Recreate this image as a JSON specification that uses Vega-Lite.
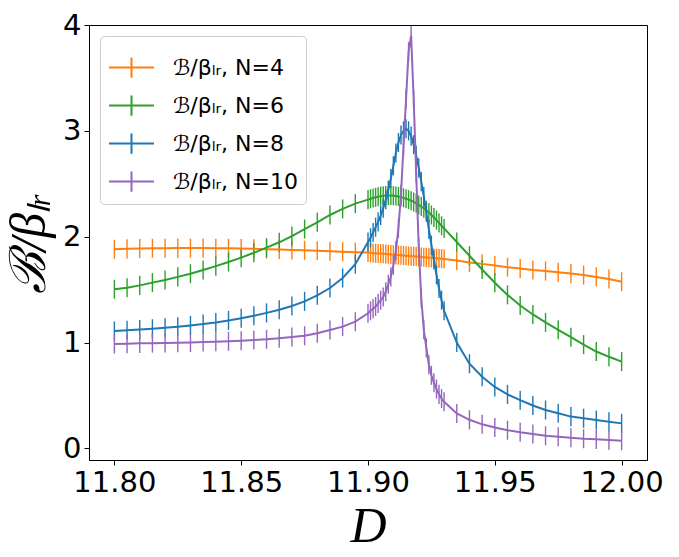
{
  "$schema": "https://vega.github.io/schema/vega-lite/v6.json",
  "width": 558,
  "height": 435,
  "autosize": "none",
  "padding": {"left": 89, "top": 25, "right": 32, "bottom": 97},
  "background": "white",
  "data": {
    "values": [
      {"N":"N=4","D":11.8,"B":1.881,"e":0.09},{"N":"N=4","D":11.805,"B":1.885,"e":0.09},{"N":"N=4","D":11.81,"B":1.888,"e":0.09},{"N":"N=4","D":11.815,"B":1.89,"e":0.09},{"N":"N=4","D":11.82,"B":1.891,"e":0.09},{"N":"N=4","D":11.825,"B":1.892,"e":0.09},{"N":"N=4","D":11.83,"B":1.892,"e":0.09},{"N":"N=4","D":11.835,"B":1.892,"e":0.09},{"N":"N=4","D":11.84,"B":1.891,"e":0.09},{"N":"N=4","D":11.845,"B":1.89,"e":0.09},
      {"N":"N=4","D":11.85,"B":1.888,"e":0.09},{"N":"N=4","D":11.855,"B":1.885,"e":0.09},{"N":"N=4","D":11.86,"B":1.882,"e":0.09},{"N":"N=4","D":11.865,"B":1.879,"e":0.09},{"N":"N=4","D":11.87,"B":1.875,"e":0.09},{"N":"N=4","D":11.875,"B":1.872,"e":0.09},{"N":"N=4","D":11.88,"B":1.867,"e":0.09},{"N":"N=4","D":11.885,"B":1.862,"e":0.09},{"N":"N=4","D":11.89,"B":1.858,"e":0.09},{"N":"N=4","D":11.895,"B":1.854,"e":0.09},
      {"N":"N=4","D":11.9,"B":1.85,"e":0.09},{"N":"N=4","D":11.901,"B":1.848,"e":0.09},{"N":"N=4","D":11.902,"B":1.846,"e":0.09},{"N":"N=4","D":11.903,"B":1.844,"e":0.09},{"N":"N=4","D":11.904,"B":1.842,"e":0.09},{"N":"N=4","D":11.905,"B":1.84,"e":0.09},{"N":"N=4","D":11.906,"B":1.838,"e":0.09},{"N":"N=4","D":11.907,"B":1.836,"e":0.09},{"N":"N=4","D":11.908,"B":1.834,"e":0.09},{"N":"N=4","D":11.909,"B":1.832,"e":0.09},
      {"N":"N=4","D":11.91,"B":1.83,"e":0.09},{"N":"N=4","D":11.911,"B":1.828,"e":0.09},{"N":"N=4","D":11.912,"B":1.826,"e":0.09},{"N":"N=4","D":11.913,"B":1.824,"e":0.09},{"N":"N=4","D":11.914,"B":1.822,"e":0.09},{"N":"N=4","D":11.915,"B":1.82,"e":0.09},{"N":"N=4","D":11.916,"B":1.818,"e":0.09},{"N":"N=4","D":11.917,"B":1.816,"e":0.09},{"N":"N=4","D":11.918,"B":1.814,"e":0.09},{"N":"N=4","D":11.919,"B":1.812,"e":0.09},
      {"N":"N=4","D":11.92,"B":1.81,"e":0.09},{"N":"N=4","D":11.921,"B":1.808,"e":0.09},{"N":"N=4","D":11.922,"B":1.806,"e":0.09},{"N":"N=4","D":11.923,"B":1.804,"e":0.09},{"N":"N=4","D":11.924,"B":1.802,"e":0.09},{"N":"N=4","D":11.925,"B":1.8,"e":0.09},{"N":"N=4","D":11.926,"B":1.798,"e":0.09},{"N":"N=4","D":11.927,"B":1.796,"e":0.09},{"N":"N=4","D":11.928,"B":1.794,"e":0.09},{"N":"N=4","D":11.929,"B":1.792,"e":0.09},
      {"N":"N=4","D":11.93,"B":1.79,"e":0.09},{"N":"N=4","D":11.935,"B":1.775,"e":0.09},{"N":"N=4","D":11.94,"B":1.757,"e":0.09},{"N":"N=4","D":11.945,"B":1.743,"e":0.09},{"N":"N=4","D":11.95,"B":1.727,"e":0.09},{"N":"N=4","D":11.955,"B":1.712,"e":0.09},{"N":"N=4","D":11.96,"B":1.7,"e":0.09},{"N":"N=4","D":11.965,"B":1.686,"e":0.09},{"N":"N=4","D":11.97,"B":1.675,"e":0.09},{"N":"N=4","D":11.975,"B":1.663,"e":0.09},
      {"N":"N=4","D":11.98,"B":1.651,"e":0.09},{"N":"N=4","D":11.985,"B":1.638,"e":0.09},{"N":"N=4","D":11.99,"B":1.62,"e":0.09},{"N":"N=4","D":11.995,"B":1.6,"e":0.09},{"N":"N=4","D":12.0,"B":1.575,"e":0.09},

      {"N":"N=6","D":11.8,"B":1.503,"e":0.09},{"N":"N=6","D":11.805,"B":1.518,"e":0.09},{"N":"N=6","D":11.81,"B":1.54,"e":0.09},{"N":"N=6","D":11.815,"B":1.566,"e":0.09},{"N":"N=6","D":11.82,"B":1.59,"e":0.09},{"N":"N=6","D":11.825,"B":1.62,"e":0.09},{"N":"N=6","D":11.83,"B":1.65,"e":0.09},{"N":"N=6","D":11.835,"B":1.685,"e":0.09},{"N":"N=6","D":11.84,"B":1.722,"e":0.09},{"N":"N=6","D":11.845,"B":1.761,"e":0.09},
      {"N":"N=6","D":11.85,"B":1.802,"e":0.09},{"N":"N=6","D":11.855,"B":1.848,"e":0.09},{"N":"N=6","D":11.86,"B":1.896,"e":0.09},{"N":"N=6","D":11.865,"B":1.947,"e":0.09},{"N":"N=6","D":11.87,"B":2.005,"e":0.09},{"N":"N=6","D":11.875,"B":2.072,"e":0.09},{"N":"N=6","D":11.88,"B":2.136,"e":0.09},{"N":"N=6","D":11.885,"B":2.205,"e":0.09},{"N":"N=6","D":11.89,"B":2.262,"e":0.09},{"N":"N=6","D":11.895,"B":2.312,"e":0.09},
      {"N":"N=6","D":11.9,"B":2.35,"e":0.09},{"N":"N=6","D":11.901,"B":2.358,"e":0.09},{"N":"N=6","D":11.902,"B":2.366,"e":0.09},{"N":"N=6","D":11.903,"B":2.372,"e":0.09},{"N":"N=6","D":11.904,"B":2.378,"e":0.09},{"N":"N=6","D":11.905,"B":2.383,"e":0.09},{"N":"N=6","D":11.906,"B":2.386,"e":0.09},{"N":"N=6","D":11.907,"B":2.388,"e":0.09},{"N":"N=6","D":11.908,"B":2.39,"e":0.09},{"N":"N=6","D":11.909,"B":2.389,"e":0.09},
      {"N":"N=6","D":11.91,"B":2.387,"e":0.09},{"N":"N=6","D":11.911,"B":2.384,"e":0.09},{"N":"N=6","D":11.912,"B":2.38,"e":0.09},{"N":"N=6","D":11.913,"B":2.374,"e":0.09},{"N":"N=6","D":11.914,"B":2.367,"e":0.09},{"N":"N=6","D":11.915,"B":2.358,"e":0.09},{"N":"N=6","D":11.916,"B":2.35,"e":0.09},{"N":"N=6","D":11.917,"B":2.34,"e":0.09},{"N":"N=6","D":11.918,"B":2.328,"e":0.09},{"N":"N=6","D":11.919,"B":2.315,"e":0.09},
      {"N":"N=6","D":11.92,"B":2.3,"e":0.09},{"N":"N=6","D":11.921,"B":2.285,"e":0.09},{"N":"N=6","D":11.922,"B":2.268,"e":0.09},{"N":"N=6","D":11.923,"B":2.25,"e":0.09},{"N":"N=6","D":11.924,"B":2.228,"e":0.09},{"N":"N=6","D":11.925,"B":2.205,"e":0.09},{"N":"N=6","D":11.926,"B":2.182,"e":0.09},{"N":"N=6","D":11.927,"B":2.157,"e":0.09},{"N":"N=6","D":11.928,"B":2.13,"e":0.09},{"N":"N=6","D":11.929,"B":2.103,"e":0.09},
      {"N":"N=6","D":11.93,"B":2.078,"e":0.09},{"N":"N=6","D":11.935,"B":1.95,"e":0.09},{"N":"N=6","D":11.94,"B":1.82,"e":0.09},{"N":"N=6","D":11.945,"B":1.69,"e":0.09},{"N":"N=6","D":11.95,"B":1.565,"e":0.09},{"N":"N=6","D":11.955,"B":1.45,"e":0.09},{"N":"N=6","D":11.96,"B":1.35,"e":0.09},{"N":"N=6","D":11.965,"B":1.265,"e":0.09},{"N":"N=6","D":11.97,"B":1.19,"e":0.09},{"N":"N=6","D":11.975,"B":1.12,"e":0.09},
      {"N":"N=6","D":11.98,"B":1.05,"e":0.09},{"N":"N=6","D":11.985,"B":0.98,"e":0.09},{"N":"N=6","D":11.99,"B":0.915,"e":0.09},{"N":"N=6","D":11.995,"B":0.865,"e":0.09},{"N":"N=6","D":12.0,"B":0.82,"e":0.09},

      {"N":"N=8","D":11.8,"B":1.109,"e":0.09},{"N":"N=8","D":11.805,"B":1.115,"e":0.09},{"N":"N=8","D":11.81,"B":1.122,"e":0.09},{"N":"N=8","D":11.815,"B":1.13,"e":0.09},{"N":"N=8","D":11.82,"B":1.139,"e":0.09},{"N":"N=8","D":11.825,"B":1.149,"e":0.09},{"N":"N=8","D":11.83,"B":1.161,"e":0.09},{"N":"N=8","D":11.835,"B":1.174,"e":0.09},{"N":"N=8","D":11.84,"B":1.19,"e":0.09},{"N":"N=8","D":11.845,"B":1.209,"e":0.09},
      {"N":"N=8","D":11.85,"B":1.23,"e":0.09},{"N":"N=8","D":11.855,"B":1.253,"e":0.09},{"N":"N=8","D":11.86,"B":1.28,"e":0.09},{"N":"N=8","D":11.865,"B":1.31,"e":0.09},{"N":"N=8","D":11.87,"B":1.345,"e":0.09},{"N":"N=8","D":11.875,"B":1.389,"e":0.09},{"N":"N=8","D":11.88,"B":1.446,"e":0.09},{"N":"N=8","D":11.885,"B":1.515,"e":0.09},{"N":"N=8","D":11.89,"B":1.61,"e":0.09},{"N":"N=8","D":11.895,"B":1.74,"e":0.09},
      {"N":"N=8","D":11.9,"B":1.95,"e":0.09},{"N":"N=8","D":11.901,"B":1.99,"e":0.09},{"N":"N=8","D":11.902,"B":2.04,"e":0.09},{"N":"N=8","D":11.903,"B":2.09,"e":0.09},{"N":"N=8","D":11.904,"B":2.14,"e":0.09},{"N":"N=8","D":11.905,"B":2.2,"e":0.09},{"N":"N=8","D":11.906,"B":2.27,"e":0.09},{"N":"N=8","D":11.907,"B":2.35,"e":0.09},{"N":"N=8","D":11.908,"B":2.44,"e":0.09},{"N":"N=8","D":11.909,"B":2.55,"e":0.09},
      {"N":"N=8","D":11.91,"B":2.67,"e":0.09},{"N":"N=8","D":11.911,"B":2.79,"e":0.09},{"N":"N=8","D":11.912,"B":2.89,"e":0.09},{"N":"N=8","D":11.913,"B":2.96,"e":0.09},{"N":"N=8","D":11.914,"B":3.0,"e":0.09},{"N":"N=8","D":11.915,"B":3.02,"e":0.09},{"N":"N=8","D":11.916,"B":3.0,"e":0.09},{"N":"N=8","D":11.917,"B":2.95,"e":0.09},{"N":"N=8","D":11.918,"B":2.87,"e":0.09},{"N":"N=8","D":11.919,"B":2.77,"e":0.09},
      {"N":"N=8","D":11.92,"B":2.65,"e":0.09},{"N":"N=8","D":11.921,"B":2.52,"e":0.09},{"N":"N=8","D":11.922,"B":2.38,"e":0.09},{"N":"N=8","D":11.923,"B":2.23,"e":0.09},{"N":"N=8","D":11.924,"B":2.07,"e":0.09},{"N":"N=8","D":11.925,"B":1.92,"e":0.09},{"N":"N=8","D":11.926,"B":1.78,"e":0.09},{"N":"N=8","D":11.927,"B":1.64,"e":0.09},{"N":"N=8","D":11.928,"B":1.51,"e":0.09},{"N":"N=8","D":11.929,"B":1.4,"e":0.09},
      {"N":"N=8","D":11.93,"B":1.3,"e":0.09},{"N":"N=8","D":11.935,"B":1.0,"e":0.09},{"N":"N=8","D":11.94,"B":0.8,"e":0.09},{"N":"N=8","D":11.945,"B":0.677,"e":0.09},{"N":"N=8","D":11.95,"B":0.58,"e":0.09},{"N":"N=8","D":11.955,"B":0.51,"e":0.09},{"N":"N=8","D":11.96,"B":0.455,"e":0.09},{"N":"N=8","D":11.965,"B":0.405,"e":0.09},{"N":"N=8","D":11.97,"B":0.362,"e":0.09},{"N":"N=8","D":11.975,"B":0.331,"e":0.09},
      {"N":"N=8","D":11.98,"B":0.3,"e":0.09},{"N":"N=8","D":11.985,"B":0.284,"e":0.09},{"N":"N=8","D":11.99,"B":0.267,"e":0.09},{"N":"N=8","D":11.995,"B":0.251,"e":0.09},{"N":"N=8","D":12.0,"B":0.236,"e":0.09},

      {"N":"N=10","D":11.8,"B":0.986,"e":0.09},{"N":"N=10","D":11.805,"B":0.989,"e":0.09},{"N":"N=10","D":11.81,"B":0.992,"e":0.09},{"N":"N=10","D":11.815,"B":0.994,"e":0.09},{"N":"N=10","D":11.82,"B":0.995,"e":0.09},{"N":"N=10","D":11.825,"B":0.998,"e":0.09},{"N":"N=10","D":11.83,"B":1.0,"e":0.09},{"N":"N=10","D":11.835,"B":1.004,"e":0.09},{"N":"N=10","D":11.84,"B":1.008,"e":0.09},{"N":"N=10","D":11.845,"B":1.012,"e":0.09},
      {"N":"N=10","D":11.85,"B":1.017,"e":0.09},{"N":"N=10","D":11.855,"B":1.024,"e":0.09},{"N":"N=10","D":11.86,"B":1.03,"e":0.09},{"N":"N=10","D":11.865,"B":1.04,"e":0.09},{"N":"N=10","D":11.87,"B":1.052,"e":0.09},{"N":"N=10","D":11.875,"B":1.064,"e":0.09},{"N":"N=10","D":11.88,"B":1.087,"e":0.09},{"N":"N=10","D":11.885,"B":1.118,"e":0.09},{"N":"N=10","D":11.89,"B":1.15,"e":0.09},{"N":"N=10","D":11.895,"B":1.197,"e":0.09},
      {"N":"N=10","D":11.9,"B":1.276,"e":0.09},{"N":"N=10","D":11.901,"B":1.3,"e":0.09},{"N":"N=10","D":11.902,"B":1.32,"e":0.09},{"N":"N=10","D":11.903,"B":1.34,"e":0.09},{"N":"N=10","D":11.904,"B":1.37,"e":0.09},{"N":"N=10","D":11.905,"B":1.4,"e":0.09},{"N":"N=10","D":11.906,"B":1.43,"e":0.09},{"N":"N=10","D":11.907,"B":1.48,"e":0.09},{"N":"N=10","D":11.908,"B":1.55,"e":0.09},{"N":"N=10","D":11.909,"B":1.62,"e":0.09},
      {"N":"N=10","D":11.91,"B":1.73,"e":0.09},{"N":"N=10","D":11.911,"B":1.87,"e":0.09},{"N":"N=10","D":11.912,"B":2.08,"e":0.09},{"N":"N=10","D":11.913,"B":2.4,"e":0.09},{"N":"N=10","D":11.914,"B":2.85,"e":0.09},{"N":"N=10","D":11.915,"B":3.3,"e":0.09},{"N":"N=10","D":11.916,"B":3.75,"e":0.09},{"N":"N=10","D":11.917,"B":3.9,"e":0.09},{"N":"N=10","D":11.918,"B":3.3,"e":0.09},{"N":"N=10","D":11.919,"B":2.6,"e":0.09},
      {"N":"N=10","D":11.92,"B":1.9,"e":0.09},{"N":"N=10","D":11.921,"B":1.42,"e":0.09},{"N":"N=10","D":11.922,"B":1.12,"e":0.09},{"N":"N=10","D":11.923,"B":0.95,"e":0.09},{"N":"N=10","D":11.924,"B":0.79,"e":0.09},{"N":"N=10","D":11.925,"B":0.69,"e":0.09},{"N":"N=10","D":11.926,"B":0.62,"e":0.09},{"N":"N=10","D":11.927,"B":0.56,"e":0.09},{"N":"N=10","D":11.928,"B":0.51,"e":0.09},{"N":"N=10","D":11.929,"B":0.47,"e":0.09},
      {"N":"N=10","D":11.93,"B":0.44,"e":0.09},{"N":"N=10","D":11.935,"B":0.33,"e":0.09},{"N":"N=10","D":11.94,"B":0.27,"e":0.09},{"N":"N=10","D":11.945,"B":0.227,"e":0.09},{"N":"N=10","D":11.95,"B":0.198,"e":0.09},{"N":"N=10","D":11.955,"B":0.172,"e":0.09},{"N":"N=10","D":11.96,"B":0.152,"e":0.09},{"N":"N=10","D":11.965,"B":0.135,"e":0.09},{"N":"N=10","D":11.97,"B":0.119,"e":0.09},{"N":"N=10","D":11.975,"B":0.11,"e":0.09},
      {"N":"N=10","D":11.98,"B":0.1,"e":0.09},{"N":"N=10","D":11.985,"B":0.091,"e":0.09},{"N":"N=10","D":11.99,"B":0.085,"e":0.09},{"N":"N=10","D":11.995,"B":0.078,"e":0.09},{"N":"N=10","D":12.0,"B":0.072,"e":0.09}
    ]
  },
  "encoding": {
    "x": {
      "field": "D",
      "type": "quantitative",
      "scale": {"domain": [11.79, 12.01], "nice": false, "zero": false},
      "axis": {
        "values": [11.8, 11.85, 11.9, 11.95, 12.0],
        "format": ".2f",
        "title": "D",
        "titleFont": "Liberation Serif",
        "titleFontStyle": "italic",
        "titleFontWeight": "normal",
        "titleFontSize": 50,
        "titlePadding": 4
      }
    },
    "color": {
      "field": "N",
      "type": "nominal",
      "scale": {
        "domain": ["N=4", "N=6", "N=8", "N=10"],
        "range": ["#ff7f0e", "#2ca02c", "#1f77b4", "#9467bd"]
      },
      "legend": {
        "title": null,
        "orient": "none",
        "legendX": 11,
        "legendY": 11,
        "labelExpr": "'ℬ/βₗᵣ, ' + datum.label"
      }
    }
  },
  "layer": [
    {
      "mark": {"type": "errorbar", "rule": {"strokeWidth": 1.4}},
      "encoding": {
        "y": {
          "field": "B",
          "type": "quantitative",
          "scale": {"domain": [-0.11, 4], "nice": false, "zero": false},
          "title": "ℬ/βₗᵣ"
        },
        "yError": {"field": "e"}
      }
    },
    {
      "mark": {"type": "line", "strokeWidth": 2},
      "encoding": {
        "y": {
          "field": "B",
          "type": "quantitative",
          "axis": {
            "values": [0, 1, 2, 3, 4],
            "format": "d",
            "title": "ℬ/βₗᵣ",
            "titleFont": "Liberation Serif",
            "titleFontStyle": "italic",
            "titleFontWeight": "normal",
            "titleFontSize": 50,
            "titlePadding": 8
          }
        }
      }
    }
  ],
  "config": {
    "view": {"stroke": "#000000", "strokeWidth": 1},
    "axis": {
      "grid": false,
      "labelFont": "DejaVu Sans",
      "labelFontSize": 29,
      "labelColor": "#000000",
      "domainColor": "#000000",
      "tickColor": "#000000",
      "tickSize": 5,
      "labelPadding": 3,
      "titleColor": "#000000"
    },
    "legend": {
      "symbolType": "M-1,0H1M0,-0.45V0.45",
      "symbolSize": 2025,
      "symbolStrokeWidth": 2,
      "labelFont": "DejaVu Sans",
      "labelFontSize": 22,
      "labelColor": "#000000",
      "labelOffset": 18,
      "padding": 8,
      "rowPadding": 0,
      "strokeColor": "#cccccc",
      "fillColor": "#ffffff",
      "cornerRadius": 4
    }
  }
}
